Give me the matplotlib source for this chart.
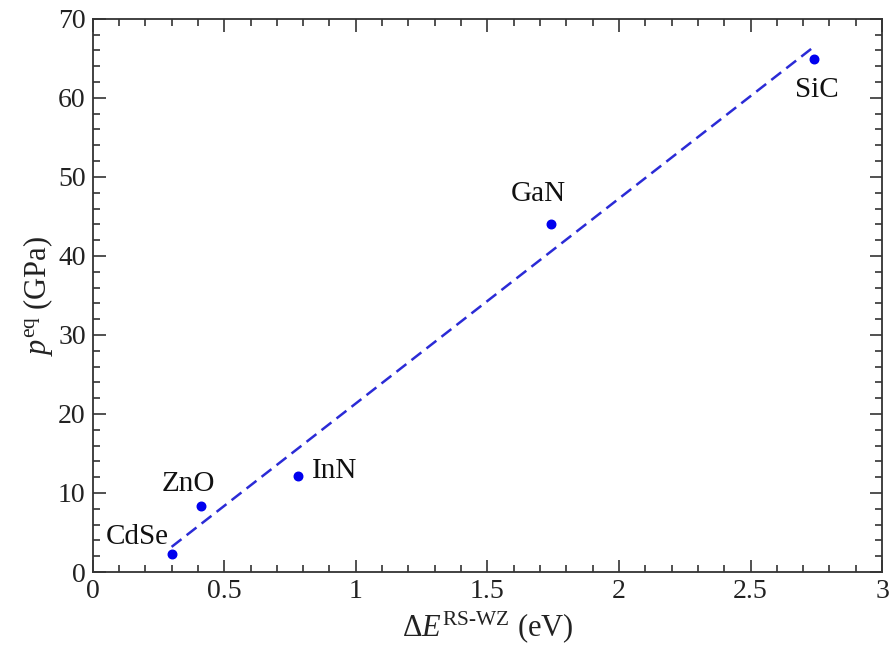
import matplotlib
matplotlib.use('Agg')
import matplotlib.pyplot as plt
from matplotlib.ticker import MultipleLocator
import numpy as np

plt.rcParams['font.family'] = ['Liberation Serif', 'DejaVu Serif']
plt.rcParams['mathtext.fontset'] = 'custom'
plt.rcParams['mathtext.rm'] = 'Liberation Serif'
plt.rcParams['mathtext.it'] = 'Liberation Serif:italic'

# materials and values
names = ['CdSe', 'ZnO', 'InN', 'GaN', 'SiC']
dE = [0.30, 0.41, 0.78, 1.74, 2.74]        # eV
p_eq = [2.3, 8.3, 12.2, 44.1, 64.9]        # GPa
# label offsets (points) and alignment
offs = [(-25, 12), (-9, 16), (10, 3), (-9, 21), (2, -22)]
has = ['center', 'center', 'left', 'center', 'center']

fig = plt.figure(figsize=(8.91, 6.5), dpi=100)
ax = fig.add_axes([0.104, 0.12, 0.886, 0.851])

# linear fit
k, b = np.polyfit(dE, p_eq, 1)
xf = np.array([min(dE), max(dE)])
ax.plot(xf, k * xf + b, ls=(0, (5, 2.6)), color='#2b2bd6', lw=1.8)

ax.scatter(dE, p_eq, s=38, color='#0000ee', zorder=3)
for n, x, y, o, h in zip(names, dE, p_eq, offs, has):
    ax.annotate(n, (x, y), xytext=o, textcoords='offset points',
                ha=h, va='center', fontsize=21, color='#111111')

ax.set_xlim(0, 3)
ax.set_ylim(0, 70)
ax.xaxis.set_major_locator(MultipleLocator(0.5))
ax.xaxis.set_minor_locator(MultipleLocator(0.1))
ax.yaxis.set_major_locator(MultipleLocator(10))
ax.yaxis.set_minor_locator(MultipleLocator(2))
ax.set_xticks([0, 0.5, 1, 1.5, 2, 2.5, 3], ['0', '0.5', '1', '1.5', '2', '2.5', '3'])
ax.tick_params(which='both', direction='in', top=True, right=True,
               labelsize=20, colors='#333333', labelcolor='#222222', width=1.2)
ax.tick_params(which='major', length=9, pad=5)
ax.tick_params(which='minor', length=5)
for s in ax.spines.values():
    s.set_color('#333333')
    s.set_linewidth(1.3)

ax.set_xlabel(r'$\Delta E^{\mathrm{RS\text{-}WZ}}$ (eV)', fontsize=22, color='#222222', labelpad=4)
ax.set_ylabel(r'$p^{\mathrm{eq}}$ (GPa)', fontsize=22, color='#222222', labelpad=2)

fig.savefig('out.png', dpi=100)
